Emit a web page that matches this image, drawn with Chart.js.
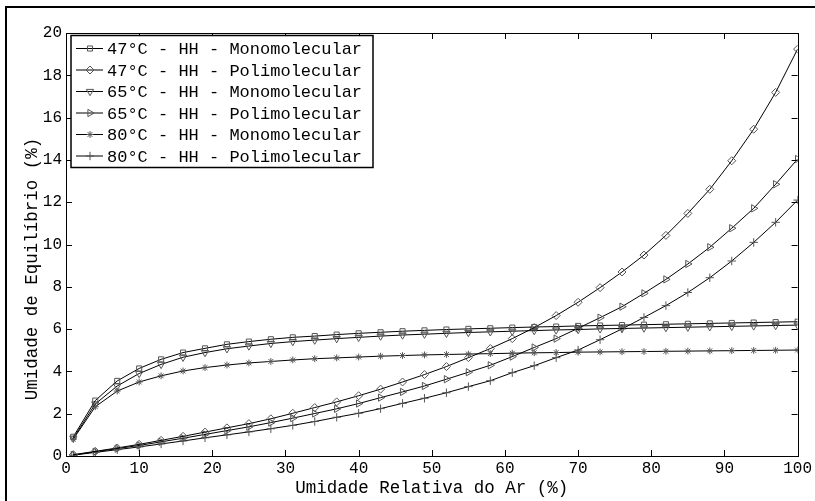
<!DOCTYPE html>
<html>
<head>
<meta charset="utf-8">
<script src="https://cdn.jsdelivr.net/npm/chart.js@4/dist/chart.umd.min.js"></script>
<style>
  html, body { margin: 0; padding: 0; background: #fff; }
  canvas { display: block; }
</style>
</head>
<body>
<canvas id="chart" width="815" height="501"></canvas>
<script>
// Relative air humidity (%) at which each isotherm is evaluated
const relHumidity = [1, 4, 7, 10, 13, 16, 19, 22, 25, 28, 31, 34, 37, 40, 43, 46, 49,
                     52, 55, 58, 61, 64, 67, 70, 73, 76, 79, 82, 85, 88, 91, 94, 97, 100];

// Equilibrium moisture content (%)
const mono47 = [0.91, 2.62, 3.55, 4.14, 4.57, 4.89, 5.09, 5.28, 5.41, 5.52, 5.61, 5.67, 5.74, 5.80, 5.85, 5.90, 5.94,
                5.98, 6.01, 6.04, 6.07, 6.10, 6.12, 6.15, 6.17, 6.19, 6.21, 6.23, 6.25, 6.27, 6.29, 6.31, 6.33, 6.35];
const poly47 = [0.06, 0.22, 0.38, 0.55, 0.74, 0.93, 1.13, 1.33, 1.53, 1.76, 2.02, 2.29, 2.56, 2.85, 3.16, 3.50, 3.85,
                4.23, 4.65, 5.08, 5.55, 6.07, 6.64, 7.27, 7.96, 8.70, 9.50, 10.43, 11.47, 12.61, 13.96, 15.45, 17.19, 19.24];
const mono65 = [0.84, 2.46, 3.31, 3.90, 4.33, 4.67, 4.89, 5.07, 5.20, 5.32, 5.41, 5.48, 5.55, 5.61, 5.67, 5.72, 5.76,
                5.80, 5.84, 5.87, 5.90, 5.93, 5.96, 5.98, 6.01, 6.03, 6.05, 6.07, 6.09, 6.11, 6.13, 6.15, 6.17, 6.19];
const poly65 = [0.05, 0.20, 0.35, 0.50, 0.67, 0.84, 1.02, 1.20, 1.38, 1.58, 1.79, 2.01, 2.23, 2.48, 2.76, 3.03, 3.31,
                3.63, 3.96, 4.29, 4.70, 5.13, 5.55, 6.04, 6.54, 7.06, 7.69, 8.35, 9.08, 9.87, 10.77, 11.71, 12.85, 14.04];
const mono80 = [0.80, 2.33, 3.07, 3.50, 3.79, 4.02, 4.18, 4.30, 4.40, 4.47, 4.54, 4.60, 4.64, 4.68, 4.72, 4.75, 4.78,
                4.80, 4.82, 4.84, 4.86, 4.88, 4.89, 4.91, 4.92, 4.93, 4.94, 4.95, 4.96, 4.97, 4.98, 4.99, 5.00, 5.01];
const poly80 = [0.04, 0.17, 0.30, 0.43, 0.57, 0.71, 0.86, 1.00, 1.14, 1.29, 1.45, 1.63, 1.83, 2.02, 2.24, 2.49, 2.73,
                2.99, 3.28, 3.56, 3.94, 4.27, 4.65, 5.01, 5.50, 6.01, 6.55, 7.11, 7.73, 8.43, 9.22, 10.10, 11.05, 12.10];

const seriesLabels = [
  '47°C - HH - Monomolecular',
  '47°C - HH - Polimolecular',
  '65°C - HH - Monomolecular',
  '65°C - HH - Polimolecular',
  '80°C - HH - Monomolecular',
  '80°C - HH - Polimolecular'
];

const xTickValues = [0, 10, 20, 30, 40, 50, 60, 70, 80, 90, 100];
const yTickValues = [0, 2, 4, 6, 8, 10, 12, 14, 16, 18, 20];

const xTitle = 'Umidade Relativa do Ar (%)';
const yTitle = 'Umidade de Equilíbrio (%)';

const FONT = "'Liberation Mono', 'DejaVu Sans Mono', monospace";

const markers = [
  { pointStyle: 'rect',     radius: 3.6, rotation: 0 },
  { pointStyle: 'rectRot',  radius: 4.0, rotation: 0 },
  { pointStyle: 'triangle', radius: 4.2, rotation: 180 },
  { pointStyle: 'triangle', radius: 4.2, rotation: 90 },
  { pointStyle: 'star',     radius: 3.4, rotation: 0 },
  { pointStyle: 'cross',    radius: 4.2, rotation: 0 }
];

const seriesValues = [mono47, poly47, mono65, poly65, mono80, poly80];

const datasets = seriesValues.map((vals, i) => ({
  label: seriesLabels[i],
  data: relHumidity.map((x, j) => ({ x: x, y: vals[j] })),
  showLine: true,
  borderColor: '#000',
  borderWidth: 1,
  tension: 0,
  pointStyle: markers[i].pointStyle,
  pointRadius: markers[i].radius,
  pointRotation: markers[i].rotation,
  pointBorderColor: '#555',
  pointBorderWidth: 1,
  pointBackgroundColor: 'rgba(255,255,255,0)'
}));

// Box around the plot, inward tick marks, outer frame, y title and the legend panel
const framePlugin = {
  id: 'matlabFrame',
  afterDraw(chart) {
    const { ctx, chartArea: a, scales } = chart;
    ctx.save();
    // figure frame
    ctx.strokeStyle = '#000';
    ctx.lineWidth = 2;
    ctx.beginPath();
    ctx.moveTo(6, 501);
    ctx.lineTo(6, 7);
    ctx.lineTo(815, 7);
    ctx.stroke();

    // axes box
    ctx.lineWidth = 1;
    ctx.strokeRect(Math.round(a.left) + 0.5, Math.round(a.top) + 0.5,
                   Math.round(a.right - a.left), Math.round(a.bottom - a.top));

    // inward ticks
    const tl = 6;
    ctx.beginPath();
    xTickValues.forEach(v => {
      const px = Math.round(scales.x.getPixelForValue(v)) + 0.5;
      ctx.moveTo(px, a.bottom); ctx.lineTo(px, a.bottom - tl);
      ctx.moveTo(px, a.top); ctx.lineTo(px, a.top + tl);
    });
    yTickValues.forEach(v => {
      const py = Math.round(scales.y.getPixelForValue(v)) + 0.5;
      ctx.moveTo(a.left, py); ctx.lineTo(a.left + tl, py);
      ctx.moveTo(a.right, py); ctx.lineTo(a.right - tl, py);
    });
    ctx.stroke();

    // y axis title
    ctx.fillStyle = '#000';
    ctx.font = '17.5px ' + FONT;
    ctx.textAlign = 'center';
    ctx.textBaseline = 'middle';
    ctx.save();
    ctx.translate(32, 269);
    ctx.rotate(-Math.PI / 2);
    ctx.fillText(yTitle, 0, 0);
    ctx.restore();

    // legend panel
    const lx = 71, ly = 35.5, lw = 302, lh = 132;
    ctx.fillStyle = '#fff';
    ctx.fillRect(lx, ly, lw, lh);
    ctx.strokeStyle = '#000';
    ctx.lineWidth = 1.5;
    ctx.strokeRect(lx, ly, lw, lh);
    ctx.font = '17px ' + FONT;
    ctx.textBaseline = 'middle';
    ctx.textAlign = 'left';
    const rowH = 21.5;
    chart.data.datasets.forEach((ds, i) => {
      const cy = ly + 13 + i * rowH;
      ctx.strokeStyle = '#000';
      ctx.lineWidth = 1;
      ctx.beginPath();
      ctx.moveTo(76, cy); ctx.lineTo(103, cy);
      ctx.stroke();
      ctx.strokeStyle = '#555';
      ctx.fillStyle = 'rgba(255,255,255,0)';
      Chart.helpers.drawPoint(ctx, {
        pointStyle: ds.pointStyle,
        radius: ds.pointRadius,
        rotation: ds.pointRotation,
        borderWidth: 1
      }, 90, cy);
      ctx.fillStyle = '#000';
      ctx.fillText(ds.label, 107, cy + 1);
    });
    ctx.restore();
  }
};

new Chart(document.getElementById('chart'), {
  type: 'scatter',
  data: { datasets: datasets },
  plugins: [framePlugin],
  options: {
    responsive: false,
    animation: false,
    layout: { padding: { top: 33, right: 15, left: 0, bottom: 0 } },
    plugins: {
      legend: { display: false },
      tooltip: { enabled: false }
    },
    scales: {
      x: {
        type: 'linear',
        min: 0,
        max: 100,
        afterFit(scale) { scale.height = 45; },
        afterBuildTicks(scale) { scale.ticks = xTickValues.map(v => ({ value: v })); },
        grid: { display: false, drawTicks: false },
        border: { display: true, color: '#000', width: 1 },
        ticks: {
          color: '#000',
          padding: 3,
          maxRotation: 0,
          autoSkip: false,
          font: { family: FONT, size: 16 }
        },
        title: {
          display: true,
          text: xTitle,
          color: '#000',
          padding: { top: 0, bottom: 2 },
          font: { family: FONT, size: 17.5 }
        }
      },
      y: {
        type: 'linear',
        min: 0,
        max: 20,
        afterFit(scale) { scale.width = 66; },
        afterBuildTicks(scale) { scale.ticks = yTickValues.map(v => ({ value: v })); },
        grid: { display: false, drawTicks: false },
        border: { display: true, color: '#000', width: 1 },
        ticks: {
          color: '#000',
          padding: 4,
          autoSkip: false,
          font: { family: FONT, size: 16 }
        }
      }
    }
  }
});
</script>
</body>
</html>
